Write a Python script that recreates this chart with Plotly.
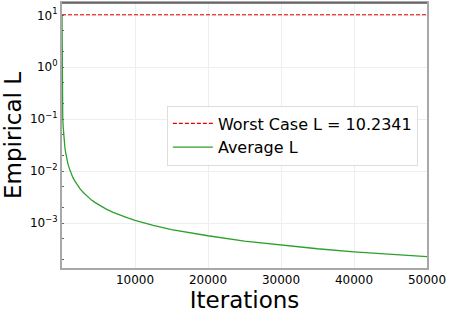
import plotly.graph_objects as go

worst_case_L = 10.2341
x_range = [0, 50000]

iterations = [1, 5, 10, 20, 50, 100, 150, 200, 300, 400, 500, 600, 800, 1000, 1250, 1500, 1750,
              2000, 2500, 3000, 3500, 4000, 4500, 5000, 6000, 7000, 8000, 9000, 10000, 12500,
              15000, 17500, 20000, 25000, 30000, 35000, 40000, 45000, 50000]
average_L = [10.2, 2.25, 1.12, 0.56, 0.225, 0.113, 0.075, 0.0565, 0.0377, 0.0283, 0.0226,
             0.0188, 0.0141, 0.0113, 0.009, 0.0075, 0.0065, 0.0057, 0.0045, 0.0038, 0.0032,
             0.0028, 0.0025, 0.00226, 0.00188, 0.00161, 0.00141, 0.00126, 0.00113, 0.0009,
             0.00075, 0.00065, 0.00057, 0.00045, 0.00038, 0.00032, 0.00028, 0.00025, 0.000226]

y_tickvals = [1e-3, 1e-2, 1e-1, 1, 10]
y_ticktext = ["10<sup>−3</sup>", "10<sup>−2</sup>", "10<sup>−1</sup>", "10<sup>0</sup>", "10<sup>1</sup>"]
x_tickvals = [10000, 20000, 30000, 40000, 50000]
x_ticktext = ["10000", "20000", "30000", "40000", "50000"]

fig = go.Figure()
fig.add_trace(go.Scatter(
    x=x_range, y=[worst_case_L, worst_case_L], mode="lines",
    name="Worst Case L = 10.2341",
    line=dict(color="rgb(230,0,0)", dash="4px,2px", width=1.1),
))
fig.add_trace(go.Scatter(
    x=iterations, y=average_L, mode="lines", name="Average L",
    line=dict(color="rgb(44,160,44)", width=1.3),
))

font = "DejaVu Sans"
fig.update_layout(
    width=449, height=315,
    margin=dict(l=62, r=22, t=3, b=47, autoexpand=False),
    paper_bgcolor="white", plot_bgcolor="white",
    font=dict(family=font, color="black"),
    showlegend=True,
    legend=dict(x=0.975, y=0.5, xanchor="right", yanchor="middle",
                bgcolor="rgba(255,255,255,0.85)", bordercolor="#dddddd", borderwidth=1,
                font=dict(size=16, family=font), tracegroupgap=0, itemwidth=40),
    xaxis=dict(
        range=x_range, tickvals=x_tickvals, ticktext=x_ticktext, ticks="",
        tickfont=dict(size=12), automargin=False,
        showgrid=True, gridcolor="#eeeeee", gridwidth=1,
        showline=True, linecolor="#a8a8a8", linewidth=2, mirror=True,
        zeroline=False,
        title=dict(text="Iterations", font=dict(size=23), standoff=2),
    ),
    yaxis=dict(
        type="log", range=[-3.865, 1.237], tickvals=y_tickvals, ticktext=y_ticktext,
        ticks="", tickfont=dict(size=12), automargin=False,
        showgrid=True, gridcolor="#eeeeee", gridwidth=1,
        showline=True, linecolor="#a8a8a8", linewidth=2, mirror=True,
        zeroline=False,
        minor=dict(ticks="inside", ticklen=2, tickcolor="#666666", showgrid=False),
        title=dict(text="Empirical L", font=dict(size=23), standoff=4),
    ),
)
fig.add_shape(type="line", xref="paper", yref="paper", x0=0, x1=1, y0=1, y1=1,
              line=dict(color="#555555", width=1.5))
fig.write_html("out.html", config={"displayModeBar": False},
               post_script="document.body.style.margin='0';")
